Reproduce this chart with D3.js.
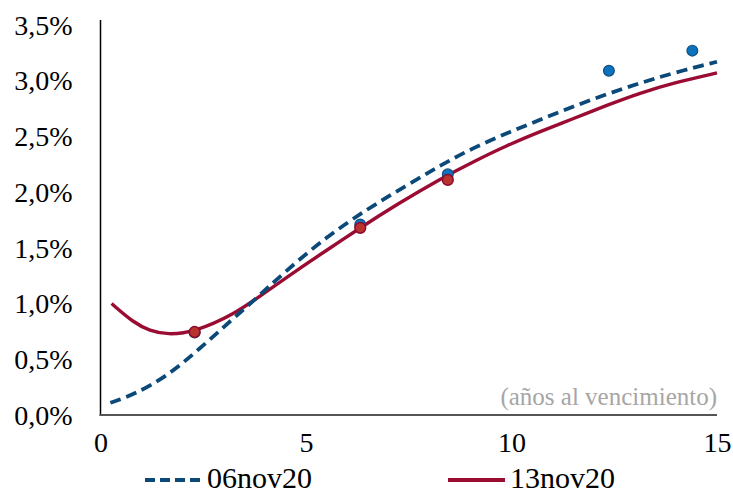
<!DOCTYPE html>
<html><head><meta charset="utf-8">
<script src="https://cdn.jsdelivr.net/npm/d3@7"></script>
<style>body{margin:0;background:#fff}svg{display:block}text{font-family:"Liberation Serif","DejaVu Serif",serif}</style>
</head><body><svg id="c" width="733" height="489"></svg>
<script>
// Fitted curve, 06nov20 (years, %)
const curveA_x = [0.24, 0.8, 1.63, 2.43, 3.24, 3.65, 4.5, 5.5, 6.5, 7.4, 8.27, 9.08, 9.89, 10.7, 11.51, 12.32, 13.13, 13.94, 15.0];
const curveA_y = [0.11, 0.18, 0.35, 0.60, 0.87, 1.00, 1.29, 1.60, 1.85, 2.05, 2.24, 2.40, 2.53, 2.65, 2.77, 2.88, 2.98, 3.07, 3.17];
// Fitted curve, 13nov20
const curveB_x = [0.27, 0.8, 1.2, 1.63, 2.29, 3.24, 3.97, 4.78, 5.59, 6.32, 7.21, 8.27, 9.08, 9.89, 10.7, 11.51, 12.32, 13.13, 13.94, 15.0];
const curveB_y = [1.00, 0.83, 0.755, 0.72, 0.745, 0.90, 1.09, 1.30, 1.50, 1.68, 1.89, 2.12, 2.275, 2.42, 2.545, 2.66, 2.78, 2.89, 2.98, 3.07];
// Observed points
const obsA_x = [2.29, 6.32, 8.45, 12.37, 14.4];
const obsA_y = [0.74, 1.71, 2.16, 3.09, 3.27];
const obsB_x = [2.29, 6.32, 8.45];
const obsB_y = [0.745, 1.68, 2.11];
const xTicks = [0, 5, 10, 15];
const yTicks = [0, 0.5, 1.0, 1.5, 2.0, 2.5, 3.0, 3.5];
const seriesNames = ["06nov20", "13nov20"];
const axisNote = "(años al vencimiento)";

const svg = d3.select("#c");
const x = d3.scaleLinear().domain([0, 15]).range([100.5, 717]);
const y = d3.scaleLinear().domain([0, 3.5]).range([415, 25]);
const blue = "#0B4A78", red = "#9B0C33";
const font = '"Liberation Serif","DejaVu Serif",serif';

// axes
const yAx = svg.append("g").attr("transform", `translate(${x(0)},0)`)
  .call(d3.axisLeft(y).tickValues(yTicks).tickSize(0).tickPadding(28)
    .tickFormat(d => d3.format(".1f")(d).replace(".", ",") + "%"));
yAx.select(".domain").remove();
yAx.selectAll("text").style("font-family", font).attr("font-size", 28).attr("fill", "#000").attr("dy", "0.33em");
svg.append("line").attr("x1", x(0)).attr("x2", x(0)).attr("y1", 20).attr("y2", 416)
  .attr("stroke", "#000").attr("stroke-width", 1.5);

const xAx = svg.append("g").attr("transform", `translate(0,${y(0)})`)
  .call(d3.axisBottom(x).tickValues(xTicks).tickSize(0).tickPadding(17));
xAx.select(".domain").remove();
xAx.selectAll("text").style("font-family", font).attr("font-size", 28).attr("fill", "#000").attr("dy", "0.71em");
svg.append("line").attr("x1", x(0) - 1).attr("x2", 717).attr("y1", y(0)).attr("y2", y(0))
  .attr("stroke", "#555").attr("stroke-width", 2);

svg.append("text").attr("x", 717).attr("y", 405).attr("text-anchor", "end")
  .style("font-family", font).attr("font-size", 25).attr("fill", "#A6A6A6").text(axisNote);

// curves
const line = d3.line().x(d => x(d[0])).y(d => y(d[1])).curve(d3.curveBasis);
svg.append("path").datum(curveB_x.map((v, i) => [v, curveB_y[i]]))
  .attr("d", line).attr("fill", "none").attr("stroke", red).attr("stroke-width", 3.4);
svg.append("path").datum(curveA_x.map((v, i) => [v, curveA_y[i]]))
  .attr("d", line).attr("fill", "none").attr("stroke", blue).attr("stroke-width", 3.8)
  .attr("stroke-dasharray", "11,6");

// points
svg.append("g").selectAll("circle").data(obsA_x.map((v, i) => [v, obsA_y[i]])).join("circle")
  .attr("cx", d => x(d[0])).attr("cy", d => y(d[1])).attr("r", 5.4)
  .attr("fill", "#0B72BD").attr("stroke", "#134F7D").attr("stroke-width", 1.2);
svg.append("g").selectAll("circle").data(obsB_x.map((v, i) => [v, obsB_y[i]])).join("circle")
  .attr("cx", d => x(d[0])).attr("cy", d => y(d[1])).attr("r", 5.4)
  .attr("fill", "#B8322E").attr("stroke", "#8E0A2C").attr("stroke-width", 1.5);

// legend
const lg = svg.append("g");
lg.append("line").attr("x1", 145).attr("x2", 203).attr("y1", 480).attr("y2", 480)
  .attr("stroke", blue).attr("stroke-width", 3.8).attr("stroke-dasharray", "10,5");
lg.append("text").attr("x", 207).attr("y", 488).style("font-family", font).attr("font-size", 30).text(seriesNames[0]);
lg.append("line").attr("x1", 448).attr("x2", 505).attr("y1", 480).attr("y2", 480)
  .attr("stroke", red).attr("stroke-width", 3.8);
lg.append("text").attr("x", 510).attr("y", 488).style("font-family", font).attr("font-size", 30).text(seriesNames[1]);
</script></body></html>
